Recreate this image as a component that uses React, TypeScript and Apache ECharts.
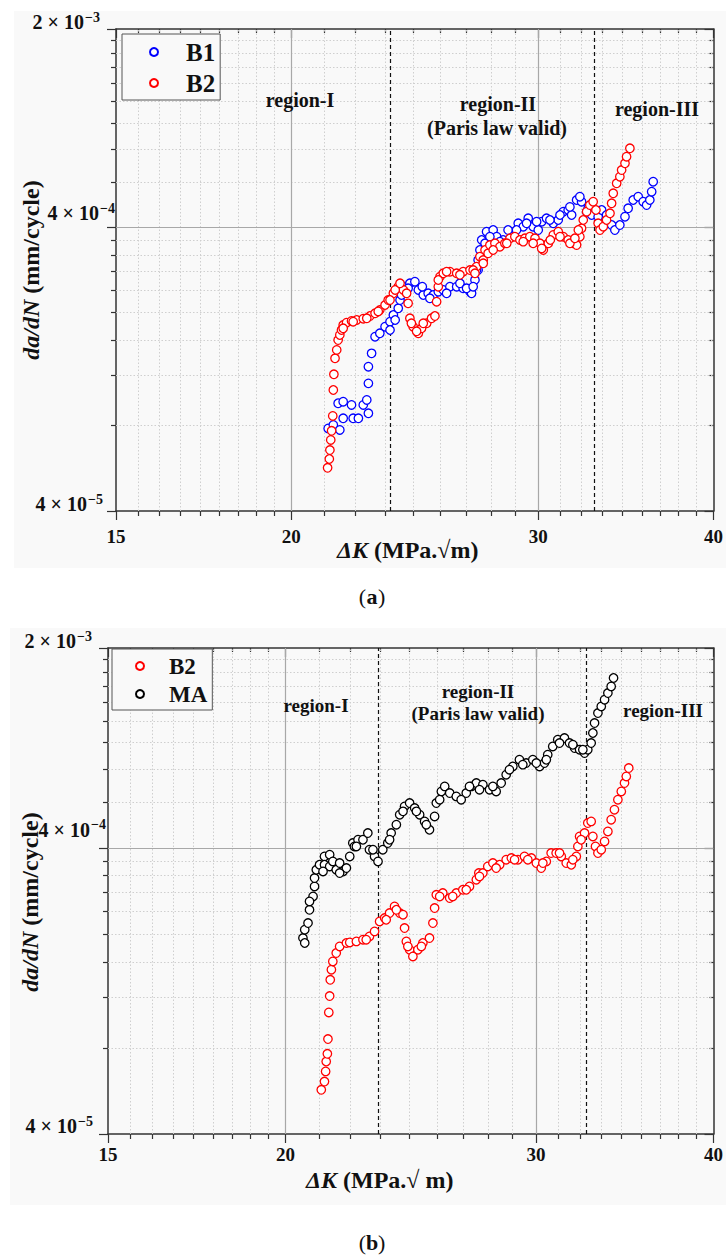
import React, { useEffect, useRef } from "react";
import * as echarts from "echarts";

const FONT = "'Liberation Serif', 'Times New Roman', Times, serif";

// ---------------- Panel (a): B1 vs B2 ----------------
const aB1K = [21.25, 21.43, 21.66, 21.78, 21.6, 21.78, 22.08, 22.14, 22.33, 22.51, 22.64, 22.7, 22.7, 22.7, 22.82, 22.95, 23.13, 23.33, 23.52, 23.65, 23.84, 23.91, 24.1, 24.3, 24.5, 24.64, 24.84, 25.04, 25.25, 25.46, 25.67, 25.95, 26.24, 26.52, 26.82, 26.89, 27.04, 27.18, 27.18, 27.34, 27.34, 27.49, 27.56, 27.86, 28.02, 28.32, 28.72, 29.03, 29.27, 29.51, 29.75, 30.0, 30.17, 30.41, 30.75, 31.0, 31.26, 31.51, 31.69, 31.95, 32.21, 32.48, 32.75, 33.1, 33.29, 33.56, 33.84, 34.02, 34.3, 34.59, 34.77, 35.06, 35.35, 35.64, 35.84, 36.03, 36.14, 36.23,
  23.52, 23.72, 23.97, 24.23, 24.8, 25.11, 25.81, 26.38, 26.67, 26.96, 27.11, 27.26, 27.71, 28.17, 28.55, 28.95, 29.43, 29.92, 30.58, 31.09, 31.6, 32.12, 32.56];
const aB1Rate = [7.82e-5, 8.04e-5, 7.72e-5, 8.49e-5, 9.59e-5, 9.71e-5, 9.46e-5, 8.49e-5, 8.49e-5, 9.46e-5, 9.85e-5, 8.84e-5, 1.127e-4, 1.29e-4, 1.438e-4, 1.646e-4, 1.692e-4, 1.785e-4, 1.859e-4, 1.963e-4, 2.073e-4, 2.217e-4, 2.47e-4, 2.539e-4, 2.572e-4, 2.405e-4, 2.309e-4, 2.341e-4, 2.309e-4, 2.371e-4, 2.405e-4, 2.47e-4, 2.47e-4, 2.438e-4, 2.371e-4, 2.341e-4, 2.608e-4, 2.828e-4, 3.067e-4, 3.239e-4, 3.608e-4, 3.513e-4, 3.86e-4, 3.913e-4, 3.706e-4, 3.608e-4, 3.706e-4, 4.132e-4, 4.02e-4, 4.303e-4, 4.02e-4, 3.913e-4, 4.186e-4, 4.303e-4, 4.132e-4, 4.244e-4, 4.54e-4, 4.603e-4, 4.42e-4, 4.992e-4, 4.923e-4, 4.54e-4, 4.42e-4, 4.359e-4, 4.603e-4, 4.42e-4, 4.075e-4, 3.913e-4, 4.075e-4, 4.359e-4, 4.667e-4, 4.992e-4, 5.127e-4, 4.923e-4, 4.793e-4, 4.992e-4, 5.34e-4, 5.791e-4,
  1.738e-4, 1.885e-4, 2.309e-4, 2.438e-4, 2.47e-4, 2.248e-4, 2.341e-4, 2.539e-4, 2.438e-4, 2.47e-4, 2.828e-4, 3.327e-4, 3.706e-4, 3.56e-4, 3.913e-4, 3.913e-4, 4.132e-4, 4.186e-4, 4.244e-4, 4.42e-4, 4.72e-4, 5.127e-4, 4.667e-4];
const aB2K = [21.23, 21.29, 21.31, 21.34, 21.37, 21.41, 21.43, 21.45, 21.49, 21.55, 21.6, 21.66, 21.72, 21.78, 21.9, 22.08, 22.27, 22.51, 22.76, 22.95, 23.13, 23.33, 23.45, 23.65, 23.84, 24.04, 24.17, 24.23, 24.3, 24.43, 24.64, 24.77, 24.98, 25.18, 25.32, 25.39, 25.46, 25.53, 25.67, 25.95, 26.24, 26.52, 26.82, 27.11, 27.26, 27.41, 27.49, 27.63, 27.71, 27.94, 28.17, 28.4, 28.64, 28.87, 29.11, 29.35, 29.59, 29.84, 30.08, 30.25, 30.5, 30.75, 31.0, 31.26, 31.51, 31.77, 31.95, 32.12, 32.21, 32.3, 32.48, 32.65, 32.83, 32.98, 33.1, 33.2, 33.38, 33.56, 33.75, 33.84, 33.93, 34.12, 34.3, 34.4, 34.59, 34.68, 34.87,
  21.78, 22.14, 22.64, 23.07, 23.52, 23.72, 23.91, 24.36, 24.57, 24.84, 25.46, 25.81, 26.38, 26.96, 27.04, 27.41, 27.86, 28.49, 29.27, 29.75, 30.17, 30.6, 31.09, 31.6, 31.86, 32.04];
const aB2Rate = [5.68e-5, 6.1e-5, 6.56e-5, 7.12e-5, 7.67e-5, 8.65e-5, 1.068e-4, 1.213e-4, 1.381e-4, 1.478e-4, 1.602e-4, 1.669e-4, 1.738e-4, 1.81e-4, 1.844e-4, 1.87e-4, 1.885e-4, 1.905e-4, 1.947e-4, 1.99e-4, 2.044e-4, 2.129e-4, 2.217e-4, 2.341e-4, 2.47e-4, 2.405e-4, 2.341e-4, 2.158e-4, 1.911e-4, 1.785e-4, 1.692e-4, 1.762e-4, 1.835e-4, 1.911e-4, 1.947e-4, 2.187e-4, 2.47e-4, 2.679e-4, 2.754e-4, 2.789e-4, 2.754e-4, 2.789e-4, 2.828e-4, 2.905e-4, 3.15e-4, 3.067e-4, 3.327e-4, 3.239e-4, 3.464e-4, 3.513e-4, 3.417e-4, 3.513e-4, 3.658e-4, 3.706e-4, 3.608e-4, 3.658e-4, 3.706e-4, 3.658e-4, 3.513e-4, 3.327e-4, 3.513e-4, 3.758e-4, 3.86e-4, 3.706e-4, 3.608e-4, 3.513e-4, 3.464e-4, 3.706e-4, 3.968e-4, 4.244e-4, 4.54e-4, 4.793e-4, 4.923e-4, 4.603e-4, 4.132e-4, 3.913e-4, 4.02e-4, 4.244e-4, 4.481e-4, 4.86e-4, 5.271e-4, 5.716e-4, 6.031e-4, 6.367e-4, 6.724e-4, 7.094e-4, 7.594e-4,
  1.762e-4, 1.859e-4, 1.911e-4, 2.02e-4, 2.217e-4, 2.405e-4, 2.539e-4, 1.835e-4, 1.72e-4, 1.835e-4, 2.608e-4, 2.789e-4, 2.72e-4, 2.828e-4, 2.754e-4, 2.986e-4, 3.327e-4, 3.513e-4, 3.56e-4, 3.513e-4, 3.37e-4, 3.608e-4, 3.706e-4, 3.513e-4, 3.658e-4, 3.913e-4];

// ---------------- Panel (b): B2 vs MA ----------------
const bB2K = [21.19, 21.3, 21.34, 21.36, 21.4, 21.42, 21.45, 21.48, 21.5, 21.54, 21.59, 21.71, 21.83, 22.07, 22.19, 22.43, 22.67, 22.91, 23.1, 23.29, 23.48, 23.67, 23.86, 24.06, 24.19, 24.25, 24.32, 24.45, 24.58, 24.78, 24.98, 25.25, 25.39, 25.46, 25.53, 25.8, 26.09, 26.37, 26.65, 26.94, 27.24, 27.35, 27.53, 27.75, 27.98, 28.29, 28.59, 28.83, 29.14, 29.45, 29.78, 30.02, 30.26, 30.51, 30.75, 31.0, 31.26, 31.51, 31.77, 32.03, 32.11, 32.2, 32.46, 32.63, 32.81, 32.9, 33.04, 33.17, 33.35, 33.53, 33.71, 33.89, 34.07, 34.26, 34.45, 34.63, 34.73, 34.87,
  22.79, 23.54, 23.93, 24.38, 24.92, 25.67, 26.22, 26.8, 27.38, 28.13, 28.98, 29.61, 30.34, 31.17, 31.85, 32.28];
const bB2Rate = [5.71e-5, 6.1e-5, 6.62e-5, 7.17e-5, 7.63e-5, 8.59e-5, 1.064e-4, 1.214e-4, 1.384e-4, 1.501e-4, 1.604e-4, 1.717e-4, 1.81e-4, 1.861e-4, 1.869e-4, 1.885e-4, 1.911e-4, 1.962e-4, 2.043e-4, 2.214e-4, 2.275e-4, 2.369e-4, 2.498e-4, 2.369e-4, 2.337e-4, 2.099e-4, 1.885e-4, 1.763e-4, 1.67e-4, 1.763e-4, 1.861e-4, 1.937e-4, 2.185e-4, 2.466e-4, 2.744e-4, 2.782e-4, 2.672e-4, 2.782e-4, 2.857e-4, 2.934e-4, 3.097e-4, 3.268e-4, 3.268e-4, 3.446e-4, 3.542e-4, 3.494e-4, 3.638e-4, 3.688e-4, 3.638e-4, 3.736e-4, 3.688e-4, 3.542e-4, 3.403e-4, 3.588e-4, 3.839e-4, 3.839e-4, 3.736e-4, 3.542e-4, 3.494e-4, 3.736e-4, 4.049e-4, 4.388e-4, 4.51e-4, 4.888e-4, 4.952e-4, 4.388e-4, 4.049e-4, 3.839e-4, 3.943e-4, 4.215e-4, 4.568e-4, 5.02e-4, 5.441e-4, 5.897e-4, 6.304e-4, 6.745e-4, 7.113e-4, 7.61e-4,
  1.911e-4, 2.244e-4, 2.432e-4, 1.81e-4, 1.81e-4, 2.707e-4, 2.707e-4, 2.857e-4, 3.18e-4, 3.403e-4, 3.638e-4, 3.638e-4, 3.542e-4, 3.839e-4, 3.638e-4, 4.273e-4];
const bMAK = [20.57, 20.63, 20.63, 20.74, 20.79, 20.91, 20.96, 20.96, 21.02, 21.13, 21.3, 21.3, 21.48, 21.48, 21.59, 21.71, 21.83, 21.95, 22.07, 22.19, 22.3, 22.36, 22.49, 22.67, 22.85, 22.91, 23.1, 23.23, 23.41, 23.6, 23.73, 23.93, 24.06, 24.25, 24.45, 24.65, 24.85, 25.05, 25.25, 25.46, 25.53, 25.74, 25.88, 26.09, 26.37, 26.58, 26.8, 27.02, 27.24, 27.53, 27.83, 28.13, 28.36, 28.59, 28.9, 29.21, 29.53, 29.85, 30.18, 30.42, 30.58, 30.83, 31.08, 31.42, 31.68, 31.94, 32.2, 32.46, 32.63, 32.81, 32.9, 32.99, 33.17, 33.35, 33.53, 33.71, 33.89, 34.02,
  20.79, 21.25, 21.83, 22.43, 23.04, 23.67, 24.19, 24.72, 25.12, 25.67, 26.94, 27.38, 27.98, 28.74, 29.37, 30.02, 30.51, 31.17, 31.85, 32.37];
const bMARate = [1.937e-4, 1.861e-4, 2.071e-4, 2.185e-4, 2.432e-4, 2.707e-4, 2.934e-4, 3.139e-4, 3.356e-4, 3.494e-4, 3.736e-4, 3.494e-4, 3.787e-4, 3.446e-4, 3.588e-4, 3.356e-4, 3.542e-4, 3.311e-4, 3.403e-4, 3.736e-4, 4.161e-4, 4.049e-4, 4.273e-4, 4.273e-4, 4.51e-4, 3.943e-4, 3.736e-4, 3.588e-4, 3.943e-4, 4.161e-4, 4.51e-4, 4.822e-4, 5.226e-4, 5.587e-4, 5.742e-4, 5.516e-4, 5.226e-4, 4.952e-4, 4.631e-4, 5.155e-4, 5.742e-4, 6.304e-4, 6.564e-4, 6.224e-4, 6.056e-4, 5.897e-4, 6.224e-4, 6.564e-4, 6.745e-4, 6.654e-4, 6.391e-4, 6.304e-4, 6.745e-4, 7.211e-4, 7.709e-4, 8.136e-4, 7.923e-4, 8.136e-4, 7.709e-4, 7.923e-4, 8.471e-4, 9.056e-4, 9.558e-4, 9.69e-4, 9.308e-4, 8.94e-4, 8.819e-4, 8.588e-4, 8.819e-4, 9.308e-4, 1.009e-3, 1.093e-3, 1.185e-3, 1.25e-3, 1.319e-3, 1.392e-3, 1.468e-3, 1.571e-3,
  2.6e-4, 3.311e-4, 3.268e-4, 4.049e-4, 3.943e-4, 4.273e-4, 5.37e-4, 5.37e-4, 4.822e-4, 5.897e-4, 6.564e-4, 6.391e-4, 6.564e-4, 7.51e-4, 7.82e-4, 7.923e-4, 8.136e-4, 9.308e-4, 9.18e-4, 8.819e-4];

// ---------------- Axis ticks ----------------
const xMajorTicks = [15, 20, 30, 40];
const xMinorTicks = [15.56, 16.11, 16.67, 17.22, 17.78, 18.33, 18.89, 19.44, 21.11, 22.22, 23.33, 24.44, 25.56, 26.67, 27.78, 28.89, 31.11, 32.22, 33.33, 34.44, 35.56, 36.67, 37.78, 38.89];
const yMajorTicks = [4e-5, 4e-4, 2e-3];
const yMajorMantissa = ["4 \u00D7 10", "4 \u00D7 10", "2 \u00D7 10"];
const yMajorExponent = ["\u22125", "\u22124", "\u22123"];
const yMinorTicks = [8e-5, 1.2e-4, 1.6e-4, 2.0e-4, 2.4e-4, 2.8e-4, 3.2e-4, 3.6e-4, 5.778e-4, 7.556e-4, 9.333e-4, 1.111e-3, 1.289e-3, 1.467e-3, 1.644e-3, 1.822e-3];

// Region boundaries (ΔK) and labels
const regionBoundsA = [23.54, 32.9];
const regionBoundsB = [23.24, 32.57];
const regionLabels = ["region-I", "region-II", "(Paris law valid)", "region-III"];

const panels = [
  {
    grid: { left: 116, top: 29, width: 598, height: 482 },
    xLabelMargin: 16,
    // [distance left of axis, lift above tick] for 4e-5, 4e-4, 2e-3
    yLabelOffsets: [[13, -3], [1, 4], [16, -3]],
    xName: "{i|\u0394K} {b|(MPa.\u221Am)}",
    xNameGap: 27,
    xNamePad: [0, 14, 0, 0],
    yNameGap: 73,
    yNamePad: [0, 0, 0, 0],
    series: [
      { name: "B1", k: aB1K, r: aB1Rate, color: "#0000ff" },
      { name: "B2", k: aB2K, r: aB2Rate, color: "#ff0000" },
    ],
    bounds: regionBoundsA,
    legend: { left: 122, top: 34, fontSize: 25, padding: [5, 5, 4, 27], itemGap: 5, textPadLeft: 23 },
    labelFont: 20,
    labelPos: [[300, 100], [498, 104], [497, 128], [657, 109]],
  },
  {
    grid: { left: 108, top: 648, width: 606, height: 486 },
    xLabelMargin: 11,
    yLabelOffsets: [[15, -2], [2, 8], [16, -3]],
    xName: "{i|\u0394K} {b|(MPa.\u221A m)}",
    xNameGap: 34,
    xNamePad: [0, 62, 0, 0],
    yNameGap: 66,
    yNamePad: [0, 22, 0, 0],
    series: [
      { name: "B2", k: bB2K, r: bB2Rate, color: "#ff0000" },
      { name: "MA", k: bMAK, r: bMARate, color: "#000000" },
    ],
    bounds: regionBoundsB,
    legend: { left: 112, top: 649, fontSize: 23, padding: [4, 5, 3, 23], itemGap: 2, textPadLeft: 20 },
    labelFont: 19,
    labelPos: [[316, 705], [478, 691], [478, 713], [663, 710]],
  },
];

const tickLine = { color: "#333", width: 1.2 };
const frameLine = { color: "#333", width: 1.5 };

const nameRich = {
  i: { fontFamily: FONT, fontWeight: "bold", fontStyle: "italic", fontSize: 24, color: "#111" },
  b: { fontFamily: FONT, fontWeight: "bold", fontSize: 24, color: "#111" },
};

function buildOption(tickPixels: number[][][] | null) {
  const xAxes: any[] = [];
  const yAxes: any[] = [];
  const series: any[] = [];
  const legends: any[] = [];
  const graphics: any[] = [];
  const axisIdx: { xi: number; yi: number }[] = [];

  panels.forEach((p, gi) => {
    const xBase = {
      type: "log", logBase: 10, min: 15, max: 40, gridIndex: gi, silent: true,
      splitLine: { show: false }, minorTick: { show: false }, minorSplitLine: { show: false },
      axisLine: { show: false, onZero: false }, axisTick: { show: false }, axisLabel: { show: false },
    };
    const yBase = {
      type: "log", logBase: 10, min: 4e-5, max: 2e-3, gridIndex: gi, silent: true,
      splitLine: { show: false }, minorTick: { show: false }, minorSplitLine: { show: false },
      axisLine: { show: false, onZero: false }, axisTick: { show: false }, axisLabel: { show: false },
    };
    const xi = xAxes.length;
    xAxes.push({ ...xBase, position: "bottom", axisLine: { show: true, onZero: false, lineStyle: frameLine },
      axisTick: { show: true, customValues: xMinorTicks, length: 5, inside: false, lineStyle: tickLine } });
    xAxes.push({ ...xBase, position: "bottom",
      axisTick: { show: true, customValues: xMajorTicks, length: 9, inside: false, lineStyle: tickLine },
      axisLabel: { show: true, customValues: xMajorTicks, margin: p.xLabelMargin, formatter: (v: number) => String(Math.round(v)),
        fontFamily: FONT, fontWeight: "bold", fontSize: 19, color: "#111" },
      name: p.xName, nameLocation: "middle", nameGap: p.xNameGap, nameMoveOverlap: false,
      nameTextStyle: { fontFamily: FONT, fontWeight: "bold", fontSize: 24, color: "#111", rich: nameRich, padding: p.xNamePad } });
    xAxes.push({ ...xBase, position: "top", axisLine: { show: true, onZero: false, lineStyle: frameLine },
      axisTick: { show: true, customValues: xMinorTicks, length: 4, inside: true, lineStyle: tickLine } });
    xAxes.push({ ...xBase, position: "top",
      axisTick: { show: true, customValues: xMajorTicks, length: 9, inside: true, lineStyle: tickLine } });

    const yi = yAxes.length;
    yAxes.push({ ...yBase, position: "left", axisLine: { show: true, onZero: false, lineStyle: frameLine },
      axisTick: { show: true, customValues: yMinorTicks, length: 5, inside: false, lineStyle: tickLine } });
    yAxes.push({ ...yBase, position: "left",
      axisTick: { show: true, customValues: yMajorTicks, length: 9, inside: false, lineStyle: tickLine },
      name: "{i|da/dN} {b|(mm/cycle)}", nameLocation: "middle", nameGap: p.yNameGap, nameMoveOverlap: false,
      nameTextStyle: { fontFamily: FONT, fontWeight: "bold", fontSize: 24, color: "#111", rich: nameRich, padding: p.yNamePad } });
    yAxes.push({ ...yBase, position: "right", axisLine: { show: true, onZero: false, lineStyle: frameLine },
      axisTick: { show: true, customValues: yMinorTicks, length: 4, inside: true, lineStyle: tickLine } });
    yAxes.push({ ...yBase, position: "right",
      axisTick: { show: true, customValues: yMajorTicks, length: 9, inside: true, lineStyle: tickLine } });
    axisIdx.push({ xi, yi });

    const minorGrid = { color: "#cfcfcf", width: 1, type: [1.5, 2] };
    const majorGrid = { color: "#a8a8a8", width: 1.2, type: "solid" };
    const dashed = { color: "#111", width: 1.2, type: [4, 3] };
    series.push({
      type: "scatter", data: [], xAxisIndex: xi, yAxisIndex: yi, silent: true, z: 1,
      markLine: {
        silent: true, z: 1, precision: 12, symbol: ["none", "none"], label: { show: false }, emphasis: { disabled: true },
        animation: false,
        data: [
          ...xMinorTicks.map((v) => ({ xAxis: v, lineStyle: minorGrid })),
          ...yMinorTicks.map((v) => ({ yAxis: v, lineStyle: minorGrid })),
          ...xMajorTicks.slice(1, -1).map((v) => ({ xAxis: v, lineStyle: majorGrid })),
          ...[yMajorTicks[1]].map((v) => ({ yAxis: v, lineStyle: majorGrid })),
          ...p.bounds.map((v) => ({ xAxis: v, lineStyle: dashed })),
        ],
      },
    });
    p.series.forEach((s) => {
      series.push({
        type: "scatter", name: s.name, xAxisIndex: xi, yAxisIndex: yi, z: 10, silent: true,
        data: s.k.map((k, i) => [k, s.r[i]]),
        symbol: "circle", symbolSize: 8.5,
        itemStyle: { color: "#ffffff", borderColor: s.color, borderWidth: 1.3, opacity: 1 },
        emphasis: { disabled: true },
      });
    });
    legends.push({
      data: p.series.map((s) => s.name), orient: "vertical", left: p.legend.left, top: p.legend.top,
      itemWidth: 8, itemHeight: 8, itemGap: p.legend.itemGap, padding: p.legend.padding,
      backgroundColor: "#f9f9f9", borderColor: "#555", borderWidth: 1, selectedMode: false,
      textStyle: { fontFamily: FONT, fontWeight: "bold", fontSize: p.legend.fontSize, color: "#111", lineHeight: 26, padding: [0, 0, 0, p.legend.textPadLeft] },
    });
    regionLabels.forEach((t, i) => {
      graphics.push({
        type: "text", x: p.labelPos[i][0], y: p.labelPos[i][1], z: 50, silent: true,
        style: { text: t, fontFamily: FONT, fontWeight: "bold", fontSize: p.labelFont, fill: "#111", align: "center", verticalAlign: "middle" },
      });
    });
    // y tick labels in scientific notation, at the pixel position the axis gives each major tick
    if (tickPixels) {
      yMajorTicks.forEach((_, i) => {
        const pt = tickPixels[gi][i];
        const [dx, lift] = p.yLabelOffsets[i];
        const xr = pt[0] - dx;
        const yb = pt[1] - lift;
        graphics.push({
          type: "text", x: xr, y: yb - 8, z: 50, silent: true,
          style: { text: yMajorExponent[i], fontFamily: FONT, fontWeight: "bold", fontSize: 14, fill: "#111", align: "right", verticalAlign: "bottom" },
        });
        graphics.push({
          type: "text", x: xr - 16, y: yb, z: 50, silent: true,
          style: { text: yMajorMantissa[i], fontFamily: FONT, fontWeight: "bold", fontSize: 20, fill: "#111", align: "right", verticalAlign: "bottom" },
        });
      });
    }
  });

  // Captions "(a)" / "(b)" with a bold letter between regular parentheses
  ["a", "b"].forEach((c, i) => {
    const cx = 372;
    const cy = i === 0 ? 596 : 1242;
    const parts: [string, number, string, string][] = [["(", cx - 6, "right", "normal"], [c, cx, "center", "bold"], [")", cx + 6, "left", "normal"]];
    parts.forEach(([t, x, align, weight]) => {
      graphics.push({
        type: "text", x, y: cy, z: 50, silent: true,
        style: { text: t, fontFamily: FONT, fontSize: 22, fontWeight: weight, fill: "#111", align, verticalAlign: "middle" },
      });
    });
  });

  return {
    axisIdx,
    option: {
      animation: false,
      backgroundColor: "transparent",
      grid: panels.map((p) => ({ ...p.grid, containLabel: false })),
      xAxis: xAxes,
      yAxis: yAxes,
      legend: legends,
      series,
      graphic: graphics,
    },
  };
}

export default function App() {
  const ref = useRef<HTMLDivElement>(null);
  useEffect(() => {
    if (!ref.current) return;
    const chart = echarts.init(ref.current, undefined, { renderer: "svg" });
    const first = buildOption(null);
    chart.setOption(first.option as any);
    const tickPixels = panels.map((_, gi) => {
      const { xi, yi } = first.axisIdx[gi];
      return yMajorTicks.map((v) => chart.convertToPixel({ xAxisIndex: xi, yAxisIndex: yi } as any, [xMajorTicks[0], v]) as number[]);
    });
    const full = buildOption(tickPixels);
    chart.setOption(full.option as any, true);
    return () => chart.dispose();
  }, []);
  return (
    <div style={{ position: "absolute", left: 0, top: 0, width: 726, height: 1259, background: "#fff" }}>
      <div style={{ position: "absolute", left: 14, top: 11, width: 712, height: 557, background: "#f9f9f9" }} />
      <div style={{ position: "absolute", left: 10, top: 628, width: 716, height: 577, background: "#f9f9f9" }} />
      <div ref={ref} style={{ position: "absolute", left: 0, top: 0, width: 726, height: 1259 }} />
    </div>
  );
}
